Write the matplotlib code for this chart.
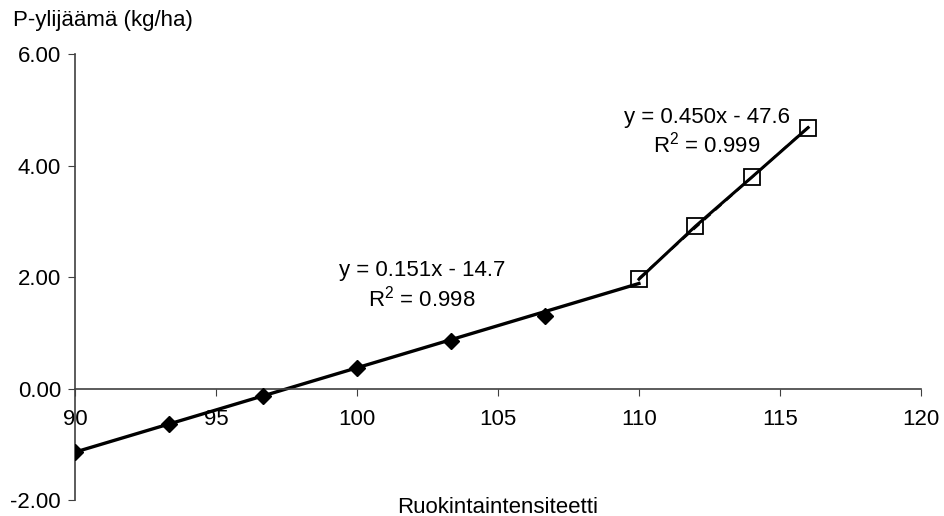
import numpy as np
import matplotlib.pyplot as plt

plt.rcParams['font.family'] = ['Liberation Sans', 'DejaVu Sans']
plt.rcParams['mathtext.fontset'] = 'custom'
plt.rcParams['mathtext.rm'] = 'Liberation Sans'
plt.rcParams['mathtext.it'] = 'Liberation Sans'

# sarja 1 (vinoneliöt), viimeinen piste jaetaan sarjan 2 kanssa
x1 = [90, 93.33, 96.67, 100, 103.33, 106.67, 110]
y1 = [-1.13, -0.63, -0.13, 0.37, 0.86, 1.30, 1.96]
# sarja 2 (neliöt)
x2 = [110, 112, 114, 116]
y2 = [1.96, 2.91, 3.79, 4.68]

yticks = [-2, 0, 2, 4, 6]
xticks = [90, 95, 100, 105, 110, 115, 120]

fig = plt.figure(figsize=(9.44, 5.16), dpi=100)
ax = fig.add_axes([0.0794, 0.031, 0.8962, 0.8643])

# trendiviivat
p1 = np.polyfit(x1, y1, 1)
p2 = np.polyfit(x2, y2, 1)
ax.plot([x1[0], x1[-1]], np.polyval(p1, [x1[0], x1[-1]]), color='black', lw=2.4, zorder=2)
ax.plot(x2, y2, color='black', lw=2.2, zorder=3)
ax.plot([x2[0], x2[-1]], np.polyval(p2, [x2[0], x2[-1]]), color='black', lw=1.5, ls=(0, (4, 3)), zorder=5)

ax.plot(x1[:-1], y1[:-1], ls='none', marker='D', ms=8, color='black', zorder=3)
ax.plot(x2, y2, ls='none', marker='s', ms=11, mfc='none', mec='black', mew=1.3, zorder=4)

ax.text(102.3, 1.84, 'y = 0.151x - 14.7\nR$^2$ = 0.998', ha='center', va='center',
        multialignment='center', fontsize=16, linespacing=1.2)
ax.text(112.4, 4.6, 'y = 0.450x - 47.6\nR$^2$ = 0.999', ha='center', va='center',
        multialignment='center', fontsize=16, linespacing=1.2)

ax.set_xlim(90, 120)
ax.set_ylim(-2, 6)
ax.set_yticks(yticks)
ax.set_yticklabels(['%.2f' % v for v in yticks])
ax.set_xticks(xticks)
ax.set_xticklabels([str(v) for v in xticks])

ax.spines['top'].set_visible(False)
ax.spines['right'].set_visible(False)
ax.spines['bottom'].set_position(('data', 0))
for s in ['left', 'bottom']:
    ax.spines[s].set_color('#404040')
    ax.spines[s].set_linewidth(1.2)
ax.tick_params(axis='x', direction='out', length=5, pad=10, color='#404040', labelsize=16)
ax.tick_params(axis='y', direction='out', length=5, pad=5, color='#404040', labelsize=16)

fig.text(0.014, 0.96, 'P-ylijäämä (kg/ha)', ha='left', va='center', fontsize=16)
fig.text(0.527, 0.017, 'Ruokintaintensiteetti', ha='center', va='center', fontsize=16)

fig.savefig('out.png', dpi=100)
